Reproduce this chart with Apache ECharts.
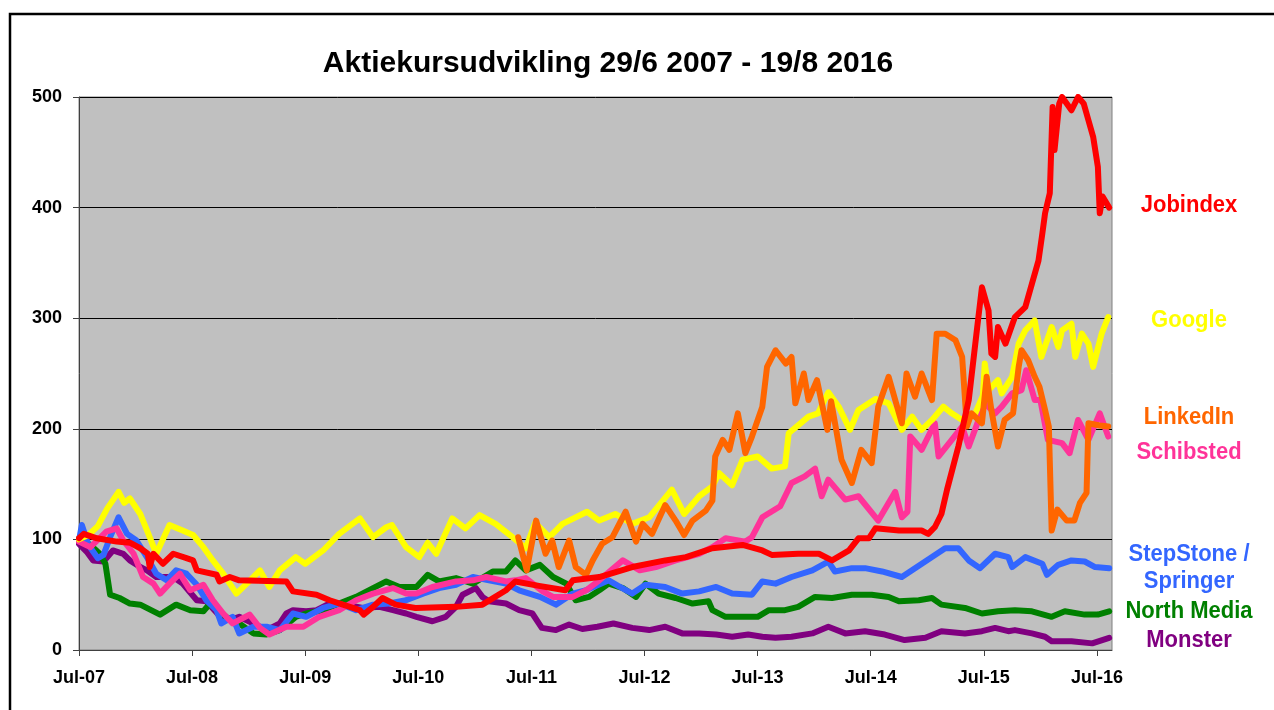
<!DOCTYPE html>
<html>
<head>
<meta charset="utf-8">
<title>Aktiekursudvikling</title>
<script src="https://cdn.jsdelivr.net/npm/echarts@6/dist/echarts.min.js"></script>
<style>
	html, body { margin: 0; padding: 0; background: #fff; }
	#chart { width: 1274px; height: 710px; }
</style>
</head>
<body>
<div id="chart"></div>
<script>
// x = months since 1 Jul 2007, y = index (29/6 2007 = 100)
var monthTicks = ['Jul-07', 'Jul-08', 'Jul-09', 'Jul-10', 'Jul-11', 'Jul-12', 'Jul-13', 'Jul-14', 'Jul-15', 'Jul-16'];
var names = ['Monster', 'North Media', 'StepStone / Springer', 'Schibsted', 'Google', 'LinkedIn', 'Jobindex'];

var monster = [[0,96],[0.8,89],[1.5,81],[2.6,80],[3.6,90],[4.7,87],[5.4,81],[6.5,75],[7.2,72],[8.2,66],[10,66],[11,60],[12.5,45],[13.5,44],[15,30],[16,27],[17,30],[18.5,24],[19.9,18],[21.3,24],[22,33],[22.7,36],[24.1,35],[25.2,36],[26.6,42],[28.3,41],[30.1,38],[31.9,39],[33.3,36],[34.7,33],[35.8,30],[37.5,26],[38.9,30],[40,39],[40.7,50],[42.1,56],[42.8,48],[43.5,44],[45.3,42],[46.7,36],[48.1,33],[49.1,20],[50.6,18],[52,23],[53.4,19],[55,21],[56.7,24],[58.7,20],[60.5,18],[62.2,21],[64,15],[65.8,15],[67.6,14],[69.3,12],[71,14],[72.5,12],[73.9,11],[75.6,12],[77.8,15],[79.5,21],[81.3,15],[83.4,17],[85.5,14],[87.6,9],[89.8,11],[91.5,17],[94,15],[95.8,17],[97.2,20],[98.6,17],[99.3,18],[101.1,15],[102.5,12],[103.2,8],[105.3,8],[107.5,6],[109.3,11]];

var northMedia = [[0,101],[1.2,95],[2.2,87],[2.8,78],[3.3,50],[4.3,47],[5.4,42],[6.5,41],[8.6,32],[10.3,41],[11.8,36],[13.2,35],[13.9,42],[14.5,38],[15.6,30],[17,24],[18.5,15],[19.9,14],[21.3,18],[23,30],[24.1,33],[25.9,36],[27.6,42],[29.4,48],[31.2,56],[32.6,62],[34,57],[35.8,57],[37,68],[38.2,62],[40,65],[41.8,60],[43.9,71],[45.3,71],[46.3,81],[47.4,72],[48.9,77],[50.3,66],[51.7,60],[52.7,45],[54.1,48],[55.2,54],[56.2,60],[57.7,56],[59.1,48],[60.1,60],[61.5,51],[63.3,47],[65.1,42],[66.8,44],[67.2,36],[68.6,30],[70.4,30],[72,30],[73.2,36],[74.9,36],[76.3,39],[78.1,48],[79.9,47],[82,50],[84.1,50],[85.9,48],[87,44],[89.1,45],[90.5,47],[91.5,41],[94,38],[95.8,33],[97.5,35],[99.3,36],[101.1,35],[103.2,30],[104.6,35],[106.7,32],[108.1,32],[109.3,35]];

var stepStone = [[0,99],[0.3,113],[1,95],[2,83],[2.6,86],[3.3,102],[4.2,120],[5.1,105],[6.1,99],[7.2,84],[8.2,69],[9.3,63],[10.3,72],[11.4,69],[12.5,59],[13.5,45],[14.6,36],[15.1,24],[16.3,30],[17,15],[18.5,21],[19.9,21],[21.3,18],[22.7,33],[24.1,30],[25.9,38],[27.6,42],[29.4,36],[31.2,41],[32.9,42],[34.7,45],[36.5,51],[38.2,56],[40,59],[41.8,66],[43.5,63],[45.3,60],[46.7,54],[48.9,48],[50.6,41],[52.4,51],[53.8,54],[56.2,63],[57.2,58],[58.7,51],[60.1,59],[62.2,57],[64,51],[65.8,53],[67.6,57],[69.3,51],[71.4,50],[72.5,62],[73.9,60],[75.6,66],[77.8,72],[79.5,80],[80.2,71],[82,74],[83.4,74],[85.2,71],[87.3,66],[88.7,74],[90.5,84],[91.9,92],[93.3,92],[94.4,81],[95.6,74],[97.2,87],[98.6,84],[99,75],[100.4,84],[102.2,78],[102.7,68],[103.9,77],[105.3,81],[106.7,80],[107.8,75],[109.3,74]];

var schibsted = [[0,98],[1.2,93],[2.9,107],[4,110],[4.7,99],[5.8,87],[6.8,66],[7.9,60],[8.6,51],[9.6,60],[10.7,69],[11.8,54],[13.2,59],[14.2,45],[15.3,33],[16.3,24],[18.1,32],[19.2,20],[20.2,14],[22,21],[23.8,21],[25.5,30],[27.6,36],[29.4,45],[31.2,51],[33.3,56],[34.7,51],[35.8,51],[37.5,57],[40,62],[41.8,63],[43.2,66],[45.3,62],[46.3,63],[47.4,65],[49.2,53],[50.3,48],[52.4,48],[53.8,54],[55.2,63],[57.7,81],[59.5,72],[61.2,75],[63.3,81],[65.8,87],[67.2,93],[68.6,101],[70.7,98],[71.4,102],[72.5,120],[74.4,130],[75.6,151],[77,157],[78.1,164],[78.8,139],[79.5,154],[81.3,136],[82.7,139],[84.8,117],[86.6,143],[87.3,120],[87.9,125],[88.2,193],[89.4,181],[90.8,205],[91.2,175],[92.6,190],[93.7,202],[94.4,184],[96.1,223],[97.2,214],[97.9,220],[99,232],[100,235],[100.5,253],[101.4,226],[102,226],[102.8,190],[104.3,187],[105.1,178],[106,208],[107.1,190],[108.3,214],[109.2,193]];

var google = [[0,100],[1,104],[2,112],[3,128],[4.2,143],[4.8,133],[5.4,137],[6.5,123],[7.5,102],[8.2,87],[9.6,113],[11,108],[12.1,104],[13.2,93],[14.2,81],[15.3,69],[16.7,51],[17.8,60],[19.2,72],[20.2,57],[21.3,72],[23,84],[24,78],[25.9,90],[27.6,105],[29.8,119],[31.2,102],[32.6,111],[33.2,113],[34.7,93],[36.1,84],[37,97],[37.9,87],[39.6,119],[41,110],[42.5,122],[44.2,114],[46,102],[47.4,92],[48.4,115],[49.9,102],[51.3,114],[53.9,125],[55.2,117],[56.9,123],[58.7,114],[60.5,120],[62.9,145],[64.2,123],[65.8,139],[67.2,148],[67.9,160],[69.3,149],[70.4,172],[72,175],[73.5,164],[74.9,166],[75.3,196],[77.4,211],[78.4,214],[79.5,233],[80.6,220],[81.8,199],[82.7,217],[84.5,227],[85.9,223],[87.3,199],[88.4,211],[89.4,199],[90.5,208],[91.7,220],[92.6,214],[93.7,208],[95,212],[95.9,230],[96.1,259],[96.5,235],[97.5,244],[97.9,232],[99,247],[99.7,277],[100.4,289],[101.4,298],[102.1,265],[103.2,292],[103.9,274],[104.3,289],[105.3,295],[105.7,265],[106.4,286],[107.1,277],[107.6,256],[108.5,286],[109.2,301]];

var linkedIn = [[46.6,102],[47.5,72],[48.5,117],[49.5,87],[50.2,99],[50.9,75],[52,99],[52.7,75],[53.8,68],[54.5,81],[55.5,96],[56.6,102],[58,125],[59.1,98],[59.8,114],[60.8,105],[62.2,131],[63.3,117],[64.2,104],[65.1,117],[66.5,126],[67.2,135],[67.5,175],[68.3,190],[69,181],[69.9,214],[70.7,178],[71.4,193],[72.5,220],[73,256],[73.9,271],[75,259],[75.6,265],[76,223],[76.9,250],[77.4,226],[78.3,244],[79.4,199],[79.8,225],[80.9,172],[82,151],[83,181],[84.1,169],[84.8,220],[85.9,247],[86.6,226],[87.3,205],[87.8,250],[88.7,229],[89.4,250],[90.5,226],[91,286],[91.9,286],[93,280],[93.7,265],[94.2,202],[94.7,214],[95.8,205],[96.3,247],[96.8,217],[97.5,184],[98.2,208],[99.1,214],[99.7,256],[100,271],[100.7,262],[101.4,247],[101.9,238],[102.5,217],[102.9,202],[103.2,108],[103.8,127],[104.8,117],[105.6,117],[106.2,133],[106.9,142],[107.1,205],[108.3,203],[109.2,202]];

var jobindex = [[0,101],[0.5,105],[1.9,101],[4,98],[5.4,97],[6.5,92],[7.3,87],[7.5,75],[7.9,87],[8.9,78],[10,87],[11.4,83],[12.1,81],[12.5,72],[14.6,68],[14.9,62],[16,66],[17,63],[22,62],[22.7,53],[25.2,50],[26.6,45],[28,41],[29.8,36],[30.2,32],[31.2,39],[32.2,47],[33.6,41],[35.7,38],[40,39],[42.8,41],[45.3,54],[46.3,62],[48.8,58],[51.6,54],[52.4,63],[55.2,66],[58.7,75],[62.2,81],[64.4,84],[67.2,92],[70.4,95],[72.5,90],[73.5,86],[76.3,87],[78.5,87],[79.9,81],[81.7,90],[82.7,101],[83.8,101],[84.5,110],[87,108],[89.4,108],[90.1,105],[90.8,111],[91.5,123],[92.1,145],[93.3,184],[94.4,226],[95.3,292],[95.8,328],[96.5,307],[96.8,268],[97.2,265],[97.5,292],[98.3,277],[99.3,301],[100.4,310],[101.1,331],[101.8,352],[102.2,376],[102.5,395],[103,413],[103.3,491],[103.5,452],[104,494],[104.3,500],[105.3,488],[106,500],[106.6,494],[107.1,479],[107.6,464],[108.1,437],[108.3,395],[108.6,410],[109.3,400]];

var seriesData = [monster, northMedia, stepStone, schibsted, google, linkedIn, jobindex];
var colors = ['#800080', '#008000', '#3366FF', '#FF3399', '#FFFF00', '#FF6600', '#FF0000'];

var font = 'Liberation Sans, Arial, sans-serif';

var chart = echarts.init(document.getElementById('chart'), null, { renderer: 'canvas' });

var labelPos = [
	{ text: 'Jobindex', y: 205, c: '#FF0000' },
	{ text: 'Google', y: 320, c: '#FFFF00' },
	{ text: 'LinkedIn', y: 417, c: '#FF6600' },
	{ text: 'Schibsted', y: 452, c: '#FF3399' },
	{ text: 'StepStone /', y: 554, c: '#3366FF' },
	{ text: 'Springer', y: 581, c: '#3366FF' },
	{ text: 'North Media', y: 611, c: '#008000' },
	{ text: 'Monster', y: 640, c: '#800080' }
];

var option = {
	animation: false,
	backgroundColor: '#fff',
	title: {
		text: 'Aktiekursudvikling 29/6 2007 - 19/8 2016',
		left: 603,
		top: 44,
		textAlign: 'center',
		textStyle: { fontFamily: font, fontSize: 30, fontWeight: 'bold', color: '#000' }
	},
	grid: {
		left: 79,
		right: 162,
		top: 97,
		bottom: 60,
		show: true,
		backgroundColor: '#C0C0C0',
		borderColor: '#808080',
		borderWidth: 1
	},
	xAxis: {
		type: 'value',
		min: 0,
		max: 109.6,
		interval: 12,
		splitLine: { show: false },
		axisLine: { lineStyle: { color: '#404040', width: 1 } },
		axisTick: { show: true, length: 6, lineStyle: { color: '#404040' } },
		axisLabel: {
			showMaxLabel: false,
			margin: 19,
			color: '#000',
			fontFamily: font,
			fontSize: 18,
			fontWeight: 'bold',
			formatter: function (v) {
				return v % 12 === 0 ? monthTicks[v / 12] : '';
			}
		}
	},
	yAxis: {
		type: 'value',
		min: 0,
		max: 500,
		interval: 100,
		splitLine: { show: true, lineStyle: { color: '#000', width: 1 } },
		axisLine: { show: true, lineStyle: { color: '#404040', width: 1 } },
		axisTick: { show: true, length: 6, lineStyle: { color: '#404040' } },
		axisLabel: {
			margin: 17,
			color: '#000',
			fontFamily: font,
			fontSize: 18,
			fontWeight: 'bold'
		}
	},
	graphic: [{
		type: 'rect',
		shape: { x: 10, y: 14, width: 1400, height: 900 },
		style: { fill: 'none', stroke: '#000', lineWidth: 2.5 },
		silent: true
	}].concat(labelPos.map(function (l) {
		return {
			type: 'text',
			x: 1189,
			y: l.y,
			scaleY: 1.1,
			style: {
				text: l.text,
				x: 0,
				y: 0,
				textAlign: 'center',
				textVerticalAlign: 'middle',
				fill: l.c,
				font: 'bold 22px ' + font
			}
		};
	})),
	series: seriesData.map(function (d, i) {
		return {
			name: names[i],
			type: 'line',
			data: d,
			showSymbol: false,
			symbol: 'none',
			clip: true,
			z: 2 + i,
			lineStyle: { color: colors[i], width: 6, join: 'round', cap: 'round' }
		};
	})
};

chart.setOption(option);
</script>
</body>
</html>
